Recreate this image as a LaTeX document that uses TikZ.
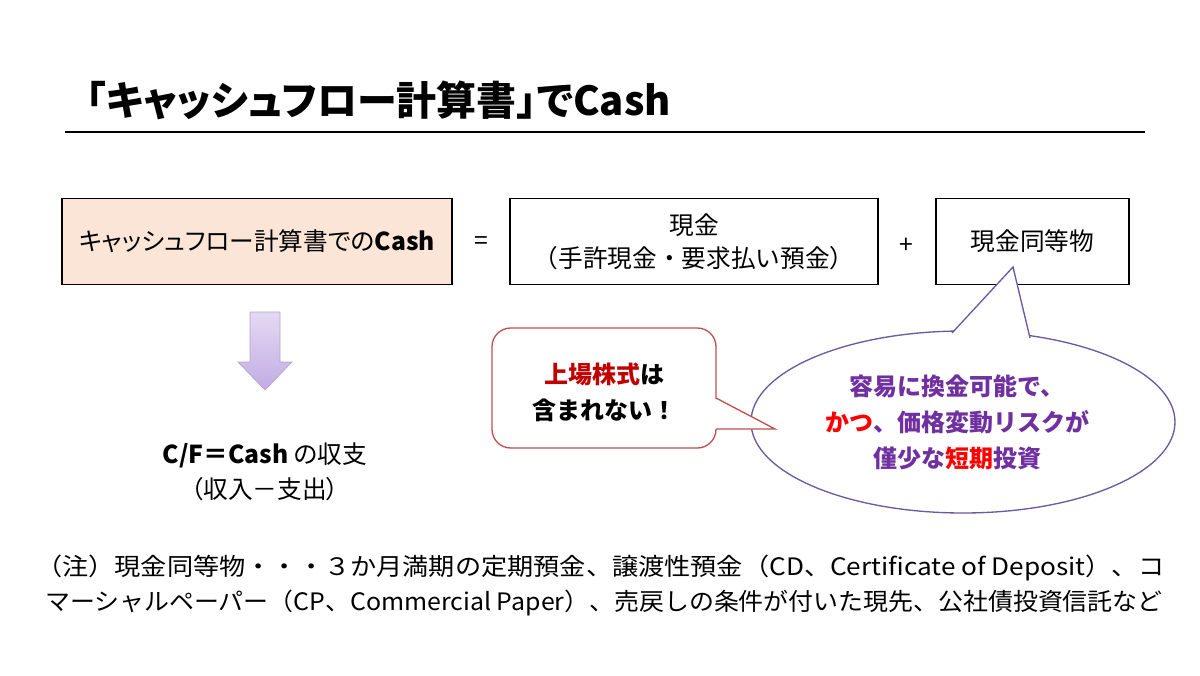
\documentclass[tikz,border=0pt]{standalone}
\usepackage{fontspec}
\setmainfont{Noto Sans CJK JP}[RawFeature=+palt]
\newfontfamily\widefont{Noto Sans CJK JP}
\usetikzlibrary{positioning}
\definecolor{boxpeach}{HTML}{FBE5D6}
\definecolor{calloutred}{HTML}{C0504D}
\definecolor{stockred}{HTML}{C00000}
\definecolor{brightred}{HTML}{FF0000}
\definecolor{ovalpurple}{HTML}{6A5AA0}
\definecolor{textpurple}{HTML}{7030A0}
\definecolor{arrowtop}{HTML}{E4DAF3}
\definecolor{arrowbot}{HTML}{C2ABE3}
\definecolor{arrowedge}{HTML}{B4A2D6}
\tikzset{
  cfbox/.style={draw=black, line width=0.9pt, minimum height=65pt, align=center, inner sep=0pt, font=\fontsize{18.5}{24.75}\selectfont},
  bodytext/.style={font=\fontsize{18.5}{26.25}\selectfont, align=center},
  bubbletext/.style={font=\widefont\bfseries\fontsize{18}{27}\selectfont, align=center},
  notetext/.style={font=\widefont\fontsize{18}{26}\selectfont, anchor=west, inner sep=0pt},
}

\begin{document}
\begin{tikzpicture}[x=0.75pt, y=-0.75pt]
\useasboundingbox (0,0) rectangle (1200,675);

% title and rule
\node[anchor=west, inner sep=0pt, font=\bfseries\fontsize{30}{36}\selectfont] (title) at (86,100) {「キャッシュフロー計算書」でCash};
\coordinate (ruleL) at (65,132);
\coordinate (ruleR) at (1145,132);
\draw[line width=1.5pt] (ruleL) -- (ruleR);

% Cash = cash + cash equivalents
\node[cfbox, fill=boxpeach, minimum width=292.5pt] (cfcash) at (257,241.5) {キャッシュフロー計算書での\textbf{Cash}};
\node[bodytext] (eq) at (481,243) {=};
\node[cfbox, minimum width=276pt] (genkin) at (694,241.5) {現金\\{\widefont（手許現金・要求払い預金）}};
\node[bodytext] (plus) at (906,246) {+};
\node[cfbox, minimum width=144.75pt] (equiv) at (1032.5,241.5) {現金同等物};

% down arrow
\draw[draw=arrowedge, line width=0.5pt, top color=arrowtop, bottom color=arrowbot]
  (250,312) -- (280,312) -- (280,362) -- (292,362) -- (265,390) -- (238,362) -- (250,362) -- cycle;
\node[bodytext] (cfflow) at (265,472) {\textbf{C/F＝Cash} の収支\\（収入－支出）};

% oval callout
\draw[ovalpurple, line width=1pt, fill=white] (963,422) ellipse [x radius=159pt, y radius=68.25pt];
\fill[white] (952,333) -- (1013,267) -- (1030,338) -- (1030,348) -- (952,348) -- cycle;
\draw[ovalpurple, line width=1pt] (952,333) -- (1013,267) -- (1030,338);
\node[bubbletext, text=textpurple] (tanki) at (957,422) {容易に換金可能で、\\\textcolor{brightred}{かつ}、価格変動リスクが\\僅少な\textcolor{brightred}{短期}投資};

% red callout
\draw[calloutred, line width=1pt, fill=white, rounded corners=14pt] (492,328) rectangle (716,448);
\fill[white] (714,398) -- (775,429) -- (714,429) -- cycle;
\draw[calloutred, line width=1pt] (716,398) -- (775,429) -- (716,429);
\node[bubbletext] (kabu) at (604,392) {\textcolor{stockred}{上場株式}は\\含まれない！};

% footnote
\node[notetext] (note1) at (36,568) {\resizebox{846pt}{\height}{（注）現金同等物・・・３か月満期の定期預金、譲渡性預金（CD、Certificate of Deposit）、コ}};
\node[notetext] (note2) at (45,603) {\resizebox{838pt}{\height}{マーシャルペーパー（CP、Commercial Paper）、売戻しの条件が付いた現先、公社債投資信託など}};
\end{tikzpicture}
\end{document}
